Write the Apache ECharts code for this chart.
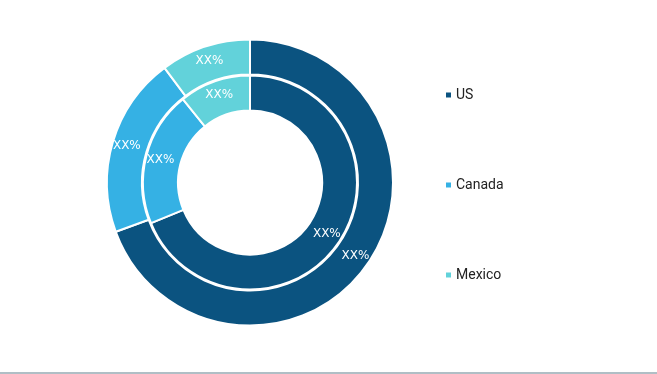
<!DOCTYPE html>
<html><head><meta charset="utf-8">
<script src="https://cdn.jsdelivr.net/npm/echarts@6/dist/echarts.min.js"></script>
<style>html,body{margin:0;padding:0;background:#fff}#c{width:657px;height:374px}</style>
</head><body><div id="c"></div>
<script>
const categories = ['US', 'Canada', 'Mexico'];
const outerValues = [69.4, 20.4, 10.2];
const innerValues = [68.8, 20.4, 10.8];
const labelText = 'XX%';
const colors = ['#0b5380', '#35b1e4', '#62d2da'];

const chart = echarts.init(document.getElementById('c'));
function mk(vals){ return categories.map((n,i)=>({name:n, value:vals[i]})); }
chart.setOption({
  animation: false,
  color: colors,
  legend: {
    orient: 'vertical', left: 439, top: 83,
    itemWidth: 7, itemHeight: 7, itemGap: 76, icon: 'rect',
    textStyle: {fontFamily: 'Roboto', fontSize: 14, color: '#222', padding:[0,0,0,-1]},
    data: categories
  },
  graphic: [{type:'rect', shape:{x:0,y:372,width:657,height:2}, style:{fill:'#b0bec5'}}],
  series: [
    {type:'pie', center:[250,182.5], radius:[108,143], clockwise:true, startAngle:90,
     itemStyle:{borderColor:'#fff', borderWidth:2},
     label:{position:'inside', formatter:labelText, color:'#fff', fontSize:12, fontFamily:'DejaVu Sans', fontWeight:'normal'},
     labelLine:{show:false}, data: mk(outerValues)},
    {type:'pie', center:[250,182.5], radius:[72,107], clockwise:true, startAngle:90,
     itemStyle:{borderColor:'#fff', borderWidth:2},
     label:{position:'inside', formatter:labelText, color:'#fff', fontSize:12, fontFamily:'DejaVu Sans', fontWeight:'normal'},
     labelLine:{show:false}, data: mk(innerValues)}
  ]
});
</script></body></html>
